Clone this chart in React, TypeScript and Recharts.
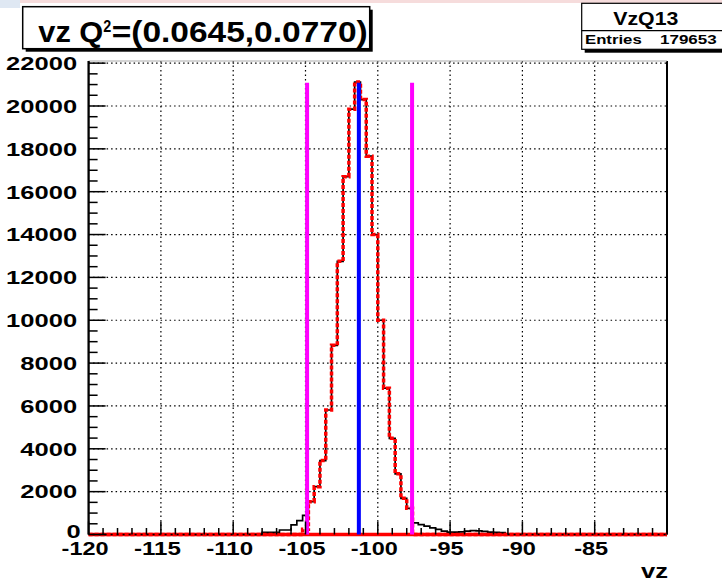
import React from 'react';
import { ComposedChart, Line, XAxis, YAxis, CartesianGrid, ReferenceLine } from 'recharts';

// ---- data -------------------------------------------------------------
const BIN_START = -120;
const BIN_WIDTH = 0.4;

// all events (black histogram), 100 bins of 0.4 from -120 to -80
const allCounts = [
  0, 0, 0, 0, 0, 0, 0, 0, 0, 0,
  0, 0, 0, 0, 0, 0, 0, 0, 0, 0,
  0, 0, 0, 0, 0, 0, 0, 0, 0, 0,
  100, 100, 100, 210, 210, 450, 650, 890, 1530, 2230,
  3450, 5810, 8830, 12750, 16700, 19850, 21120, 20300, 17660, 14000,
  10000, 6830, 4490, 2830, 1690, 1220, 545, 465, 390, 310,
  235, 155, 110, 110, 120, 160, 180, 170, 150, 110,
  100, 90, 0, 0, 0, 0, 0, 0, 0, 0,
  0, 0, 0, 0, 0, 0, 0, 0, 0, 0,
  0, 0, 0, 0, 0, 0, 0, 0, 0, 0,
];

// events inside the cut window (red dashed histogram)
const cutCounts = [
  0, 0, 0, 0, 0, 0, 0, 0, 0, 0,
  0, 0, 0, 0, 0, 0, 0, 0, 0, 0,
  0, 0, 0, 0, 0, 0, 0, 0, 0, 0,
  0, 0, 0, 0, 0, 0, 0, 250, 1530, 2230,
  3450, 5810, 8830, 12750, 16700, 19850, 21120, 20300, 17660, 14000,
  10000, 6830, 4490, 2830, 1690, 1220, 0, 0, 0, 0,
  0, 0, 0, 0, 0, 0, 0, 0, 0, 0,
  0, 0, 0, 0, 0, 0, 0, 0, 0, 0,
  0, 0, 0, 0, 0, 0, 0, 0, 0, 0,
  0, 0, 0, 0, 0, 0, 0, 0, 0, 0,
];

const xDomain = [-120, -80];
const yDomain = [0, 22100];
const xLabelValues = [-120, -115, -110, -105, -100, -95, -90, -85];
const xGridValues = [-115, -110, -105, -100, -95, -90, -85];
const yGridValues = [2000, 4000, 6000, 8000, 10000, 12000, 14000, 16000, 18000, 20000, 22000];
const cutLines = [-104.89, -97.63];
const meanLines = [-101.31];
const markerTop = 21080;

const titleParts = ['vz Q', '2', '=(0.0645,0.0770)'];
const statsName = 'VzQ13';
const statsLabel = 'Entries';
const statsValue = '179653';
const xTitle = 'vz';

// ---- derived tables ------------------------------------------------------
const histData = allCounts.map((c, i) => ({ x: BIN_START + i * BIN_WIDTH, all: c, cut: cutCounts[i] }));
histData.push({
  x: BIN_START + allCounts.length * BIN_WIDTH,
  all: allCounts[allCounts.length - 1],
  cut: cutCounts[cutCounts.length - 1],
});

const xTicks = Array.from({ length: 41 }, (_, i) => xDomain[0] + i);
const yTicks = Array.from({ length: 45 }, (_, i) => i * 500);

const FONT = "'Liberation Sans', Arial, Helvetica, sans-serif";

const XTick = (props: any) => {
  const { x, y, payload } = props;
  const v = payload.value;
  const major = Math.abs(v % 5) < 1e-9;
  const showLabel = xLabelValues.includes(v);
  const len = major ? 13 : 6.5;
  const text = String(v);
  return (
    <g>
      <line x1={x} x2={x} y1={y} y2={y - len} stroke="#000" strokeWidth={1.5} />
      {showLabel && (
        <text
          x={x - 3.5}
          y={y + 20.5}
          textAnchor="middle"
          fontSize={19}
          fontWeight="bold"
          fontFamily={FONT}
          fill="#000"
          textLength={8 + 13 * (text.length - 1)}
          lengthAdjust="spacingAndGlyphs"
        >
          {text}
        </text>
      )}
    </g>
  );
};

const YTick = (props: any) => {
  const { x, y, payload } = props;
  const v = payload.value;
  const major = v % 2000 === 0;
  const len = major ? 17 : 9;
  const text = String(v);
  return (
    <g>
      <line x1={x} x2={x + len} y1={y} y2={y} stroke="#000" strokeWidth={1.5} />
      {major && (
        <text
          x={v === 0 ? x - 8 : x - 11.5}
          y={v === 0 ? y - 3 : y}
          dy="0.36em"
          textAnchor="end"
          fontSize={19}
          fontWeight="bold"
          fontFamily={FONT}
          fill="#000"
          textLength={14.2 * text.length}
          lengthAdjust="spacingAndGlyphs"
        >
          {text}
        </text>
      )}
    </g>
  );
};

export default function App() {
  return (
    <div style={{ position: 'relative', width: 722, height: 581, background: '#fff', overflow: 'hidden' }}>
      <style>{'body{margin:0}'}</style>
      <ComposedChart
        width={722}
        height={581}
        data={histData}
        margin={{ top: 61, right: 55, left: 0, bottom: 0 }}
      >
        <CartesianGrid
          stroke="#000"
          strokeWidth={1.2}
          strokeDasharray="1.5 3"
          horizontalValues={yGridValues}
          verticalValues={xGridValues}
        />
        <XAxis
          type="number"
          dataKey="x"
          domain={xDomain}
          ticks={xTicks}
          tick={XTick}
          tickLine={false}
          tickSize={0}
          tickMargin={0}
          interval={0}
          height={46.5}
          axisLine={false}
        />
        <YAxis
          type="number"
          domain={yDomain}
          ticks={yTicks}
          tick={YTick}
          tickLine={false}
          tickSize={0}
          tickMargin={0}
          interval={0}
          width={88.6}
          axisLine={{ stroke: '#000', strokeWidth: 2.3 }}
        />
        <ReferenceLine x={xDomain[1]} stroke="#000" strokeWidth={2} />
        <ReferenceLine y={yDomain[1]} stroke="#aaa" strokeWidth={1} />
        <ReferenceLine y={yDomain[0]} stroke="#ff0000" strokeWidth={3.5} />
        <Line
          type="stepAfter"
          dataKey="all"
          stroke="#000"
          strokeWidth={1.7}
          dot={false}
          activeDot={false}
          isAnimationActive={false}
        />
        <Line
          type="stepAfter"
          dataKey="cut"
          stroke="#ff0000"
          strokeWidth={3.5}
          strokeDasharray="4 2"
          dot={false}
          activeDot={false}
          isAnimationActive={false}
        />
        {cutLines.map((v) => (
          <ReferenceLine
            key={'c' + v}
            segment={[{ x: v, y: 0 }, { x: v, y: markerTop }]}
            stroke="#ff00ff"
            strokeWidth={4}
          />
        ))}
        {meanLines.map((v) => (
          <ReferenceLine
            key={'m' + v}
            segment={[{ x: v, y: 0 }, { x: v, y: markerTop }]}
            stroke="#0000ff"
            strokeWidth={4}
          />
        ))}
      </ComposedChart>
      <svg
        width={722}
        height={581}
        style={{ position: 'absolute', left: 0, top: 0, pointerEvents: 'none' }}
        fontFamily={FONT}
        fontWeight="bold"
      >
        <rect x={0} y={0} width={722} height={3} fill="#f6dcdc" />
        <rect x={0} y={0} width={20} height={8} fill="#dfe8f3" />
        {/* title pave */}
        <rect x={25.7} y={9.7} width={347} height={42} fill="#000" />
        <rect x={22.7} y={6.7} width={347} height={42} fill="#fff" stroke="#000" strokeWidth={1.5} />
        <text x={38.3} y={41.7} fontSize={30} fill="#000" textLength={65} lengthAdjust="spacingAndGlyphs">
          {titleParts[0]}
        </text>
        <text x={103.3} y={31.5} fontSize={17} fill="#000" textLength={8} lengthAdjust="spacingAndGlyphs">
          {titleParts[1]}
        </text>
        <text x={111.7} y={41.7} fontSize={30} fill="#000" textLength={256} lengthAdjust="spacingAndGlyphs">
          {titleParts[2]}
        </text>
        {/* stats box */}
        <rect x={584.7} y={6.3} width={200} height={46.4} fill="#000" />
        <rect x={581.7} y={3.3} width={200} height={46} fill="#fff" stroke="#000" strokeWidth={1.2} />
        <line x1={581.7} x2={722} y1={30.7} y2={30.7} stroke="#000" strokeWidth={1.2} />
        <text x={613.3} y={25} fontSize={18.5} fill="#000" textLength={65} lengthAdjust="spacingAndGlyphs">
          {statsName}
        </text>
        <text x={585} y={44.3} fontSize={12} fill="#000" textLength={56.7} lengthAdjust="spacingAndGlyphs">
          {statsLabel}
        </text>
        <text x={660} y={44.3} fontSize={12} fill="#000" textLength={56.7} lengthAdjust="spacingAndGlyphs">
          {statsValue}
        </text>
        {/* x axis title */}
        <text x={668} y={578} textAnchor="end" fontSize={21} fill="#000" textLength={27} lengthAdjust="spacingAndGlyphs">
          {xTitle}
        </text>
      </svg>
    </div>
  );
}
